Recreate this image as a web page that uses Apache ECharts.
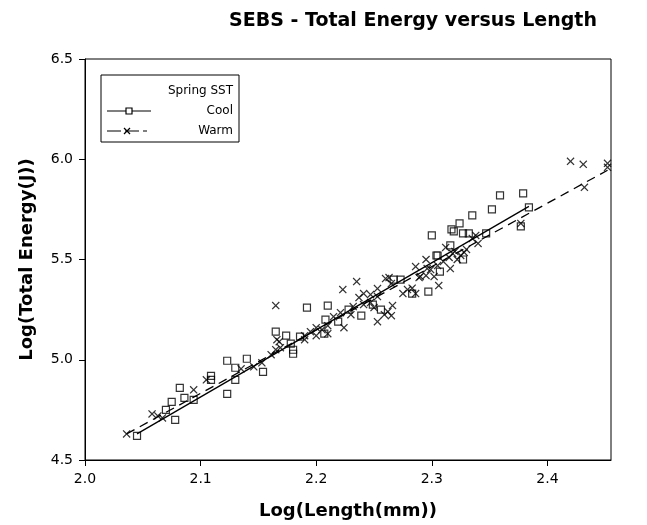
<!DOCTYPE html>
<html>
<head>
<meta charset="utf-8">
<script src="https://cdn.jsdelivr.net/npm/echarts@6/dist/echarts.min.js"></script>
<style>
  html, body { margin: 0; padding: 0; background: #fff; }
  #chart { width: 647px; height: 525px; }
</style>
</head>
<body>
<div id="chart"></div>
<script>
// 坐标轴刻度
const xTicks = [2.0, 2.1, 2.2, 2.3, 2.4];
const yTicks = [4.5, 5.0, 5.5, 6.0, 6.5];

// Cool 组: [log(length), log(total energy)]
const coolPoints = [
  [2.045, 4.62], [2.070, 4.75], [2.078, 4.70], [2.075, 4.79], [2.082, 4.86],
  [2.086, 4.81], [2.094, 4.80], [2.109, 4.90], [2.109, 4.92], [2.123, 4.995],
  [2.123, 4.83], [2.140, 5.005], [2.130, 4.96], [2.130, 4.90], [2.154, 4.94],
  [2.165, 5.14], [2.174, 5.12], [2.178, 5.08], [2.180, 5.05], [2.180, 5.03],
  [2.186, 5.115], [2.192, 5.26], [2.210, 5.27], [2.207, 5.13], [2.208, 5.20],
  [2.228, 5.25], [2.239, 5.22], [2.219, 5.19], [2.267, 5.40], [2.273, 5.40],
  [2.283, 5.33], [2.256, 5.25], [2.249, 5.275], [2.359, 5.82], [2.379, 5.83],
  [2.352, 5.75], [2.335, 5.72], [2.324, 5.68], [2.317, 5.65], [2.327, 5.63],
  [2.319, 5.64], [2.300, 5.62], [2.332, 5.63], [2.347, 5.63], [2.316, 5.57],
  [2.305, 5.52], [2.327, 5.50], [2.307, 5.44], [2.384, 5.76], [2.377, 5.665],
  [2.297, 5.34], [2.304, 5.52]
];

// Warm 组
const warmPoints = [
  [2.036, 4.63], [2.058, 4.73], [2.063, 4.72], [2.067, 4.71], [2.094, 4.85],
  [2.105, 4.90], [2.135, 4.955], [2.146, 4.965], [2.153, 4.985], [2.161, 5.025],
  [2.165, 5.05], [2.169, 5.06], [2.165, 5.27], [2.168, 5.09], [2.166, 5.10],
  [2.190, 5.12], [2.195, 5.14], [2.200, 5.16], [2.205, 5.15], [2.210, 5.17],
  [2.200, 5.12], [2.190, 5.10], [2.210, 5.13], [2.223, 5.35], [2.235, 5.39],
  [2.224, 5.16], [2.253, 5.19], [2.262, 5.24], [2.263, 5.41], [2.286, 5.465],
  [2.279, 5.35], [2.275, 5.33], [2.266, 5.27], [2.265, 5.22], [2.250, 5.26],
  [2.247, 5.285], [2.253, 5.315], [2.241, 5.275], [2.237, 5.31], [2.232, 5.265],
  [2.259, 5.225], [2.230, 5.225], [2.221, 5.235], [2.215, 5.215], [2.338, 5.62],
  [2.335, 5.605], [2.340, 5.58], [2.312, 5.56], [2.320, 5.54], [2.325, 5.52],
  [2.330, 5.55], [2.315, 5.51], [2.322, 5.50], [2.316, 5.455], [2.295, 5.50],
  [2.290, 5.415], [2.299, 5.45], [2.302, 5.415], [2.377, 5.68], [2.420, 5.99],
  [2.431, 5.975], [2.432, 5.86], [2.452, 5.98], [2.452, 5.96], [2.260, 5.405],
  [2.265, 5.38], [2.253, 5.355], [2.296, 5.455], [2.306, 5.37], [2.283, 5.357],
  [2.286, 5.33], [2.241, 5.33], [2.247, 5.325], [2.289, 5.41], [2.295, 5.42],
  [2.318, 5.53], [2.328, 5.535], [2.310, 5.49], [2.305, 5.47]
];

// 拟合线两端
const coolFit = [[2.045, 4.63], [2.384, 5.765]];
const warmFit = [[2.036, 4.63], [2.452, 5.945]];

const font = 'DejaVu Sans';
const crossPath = 'path://M1.1,0L5,3.9L8.9,0L10,1.1L6.1,5L10,8.9L8.9,10L5,6.1L1.1,10L0,8.9L3.9,5L0,1.1Z';
const tickFmt = v => v.toFixed(1);

const chart = echarts.init(document.getElementById('chart'));

const option = {
  backgroundColor: '#fff',
  animation: false,
  title: {
    text: 'SEBS - Total Energy versus Length',
    left: 408,
    top: 7,
    textAlign: 'center',
    textStyle: {fontFamily: font, fontSize: 19, fontWeight: 'bold', color: '#000'}
  },
  grid: {
    left: 85, top: 59, width: 526, height: 401,
    show: true, borderColor: '#000', borderWidth: 1
  },
  xAxis: {
    type: 'value',
    min: 2.0,
    max: 2.455,
    name: 'Log(Length(mm))',
    nameLocation: 'middle',
    nameGap: 42,
    nameTextStyle: {fontFamily: font, fontSize: 18, fontWeight: 'bold', color: '#000'},
    axisLine: {show: true, lineStyle: {color: '#000', width: 1}},
    axisTick: {show: true, length: 6, customValues: xTicks, lineStyle: {color: '#000'}},
    axisLabel: {customValues: xTicks, formatter: tickFmt, margin: 12,
      fontFamily: font, fontSize: 14, color: '#000'},
    splitLine: {show: false}
  },
  yAxis: {
    type: 'value',
    min: 4.5,
    max: 6.5,
    name: 'Log(Total Energy(J))',
    nameLocation: 'middle',
    nameGap: 49,
    nameTextStyle: {fontFamily: font, fontSize: 18, fontWeight: 'bold', color: '#000'},
    axisLine: {show: true, lineStyle: {color: '#000', width: 1}},
    axisTick: {show: true, length: 6, customValues: yTicks, lineStyle: {color: '#000'}},
    axisLabel: {customValues: yTicks, formatter: tickFmt, margin: 12,
      fontFamily: font, fontSize: 14, color: '#000'},
    splitLine: {show: false}
  },
  series: [
    {
      name: 'Cool', type: 'scatter', data: coolPoints,
      symbol: 'rect', symbolSize: 7,
      itemStyle: {color: 'rgba(0,0,0,0)', borderColor: '#000', borderWidth: 1.2}
    },
    {
      name: 'Warm', type: 'scatter', data: warmPoints,
      symbol: crossPath, symbolSize: 8,
      itemStyle: {color: '#000'}
    },
    {
      name: 'Cool fit', type: 'line', data: coolFit, showSymbol: false,
      lineStyle: {color: '#000', width: 1.3}
    },
    {
      name: 'Warm fit', type: 'line', data: warmFit, showSymbol: false,
      lineStyle: {color: '#000', width: 1.3, type: [9, 6]}
    }
  ],
  // 图例框（手绘）
  graphic: [
    {type: 'rect', shape: {x: 101, y: 75, width: 138, height: 67},
      style: {fill: '#fff', stroke: '#000', lineWidth: 1}},
    {type: 'text', x: 233, y: 91, style: {text: 'Spring SST', align: 'right', verticalAlign: 'middle',
      font: '12px "DejaVu Sans"', fill: '#000'}},
    {type: 'text', x: 233, y: 111, style: {text: 'Cool', align: 'right', verticalAlign: 'middle',
      font: '12px "DejaVu Sans"', fill: '#000'}},
    {type: 'text', x: 233, y: 131, style: {text: 'Warm', align: 'right', verticalAlign: 'middle',
      font: '12px "DejaVu Sans"', fill: '#000'}},
    {type: 'line', shape: {x1: 107, y1: 111, x2: 151, y2: 111}, style: {stroke: '#000', lineWidth: 1.2}},
    {type: 'rect', shape: {x: 126, y: 108, width: 6, height: 6},
      style: {fill: '#fff', stroke: '#000', lineWidth: 1.2}},
    {type: 'line', shape: {x1: 107, y1: 131, x2: 147, y2: 131},
      style: {stroke: '#000', lineWidth: 1.2, lineDash: [14, 4]}},
    {type: 'line', shape: {x1: 124, y1: 128, x2: 130, y2: 134}, style: {stroke: '#000', lineWidth: 1.3}},
    {type: 'line', shape: {x1: 130, y1: 128, x2: 124, y2: 134}, style: {stroke: '#000', lineWidth: 1.3}}
  ]
};

chart.setOption(option);
</script>
</body>
</html>
